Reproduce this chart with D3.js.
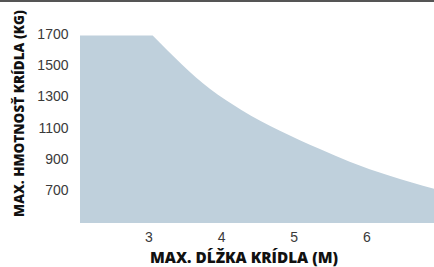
<!DOCTYPE html>
<html><head><meta charset="utf-8">
<script src="https://cdn.jsdelivr.net/npm/d3@7"></script>
<style>body{margin:0;background:#fff}svg{display:block}</style>
</head><body>
<script>
const wingLength = [2.06, 3.06, 3.85, 4.28, 4.81, 5.36, 5.77, 6.32, 6.93];
const maxLoad    = [1700, 1700, 1358, 1224, 1090, 973, 892, 802, 719];
const xTicks = [3, 4, 5, 6];
const yTicks = [700, 900, 1100, 1300, 1500, 1700];
const xTitle = "MAX. DĹŽKA KRÍDLA (M)";
const yTitle = "MAX. HMOTNOSŤ KRÍDLA (KG)";

const W = 434, H = 267;
const svg = d3.select("body").append("svg").attr("width", W).attr("height", H);

svg.append("rect").attr("x",0).attr("y",0).attr("width",W).attr("height",2).attr("fill","#555");

const x = d3.scaleLinear().domain([2.06, 6.93]).range([80, 434]);
const y = d3.scaleLinear().domain([500, 1700]).range([223, 35.5]);

const data = wingLength.map((l,i)=>({l, w:maxLoad[i]}));
// flat plateau drawn linearly, the decreasing part as a smooth monotone curve
const plateau = data.filter((d,i)=> i===0 || d.w === data[0].w);
const decline = data.slice(plateau.length-1);
const curveStr = d3.line().x(d=>x(d.l)).y(d=>y(d.w)).curve(d3.curveMonotoneX)(decline);
const first = plateau[0], last = data[data.length-1];
const pathStr = `M${x(first.l)},${y(500)}` +
  plateau.map(d=>`L${x(d.l)},${y(d.w)}`).join("") +
  "L" + curveStr.slice(1) +
  `L${x(last.l)},${y(500)}Z`;
svg.append("path").attr("d", pathStr).attr("fill", "#bfd0dc");

const font = "'Liberation Sans', Arial, sans-serif";
const xAxis = svg.append("g").attr("transform", `translate(0,${223})`)
  .call(d3.axisBottom(x).tickValues(xTicks).tickSize(0).tickPadding(6).tickFormat(d3.format("d")));
xAxis.select(".domain").remove();
xAxis.selectAll("text").attr("font-family", font).attr("font-size", 14).attr("fill", "#3a3a3a").attr("dy","0.95em");

const yAxis = svg.append("g").attr("transform", `translate(68.5,0)`)
  .call(d3.axisLeft(y).tickValues(yTicks).tickSize(0).tickPadding(0).tickFormat(d3.format("d")));
yAxis.select(".domain").remove();
yAxis.selectAll("text").attr("font-family", font).attr("font-size", 14).attr("fill", "#3a3a3a").attr("dy","0.2em");

const tfont = "'Open Sans', sans-serif";
function fit(sel, target){
  const w = sel.node().getComputedTextLength();
  const fs = 14 * target / w;
  sel.attr("font-size", fs);
}
const xt = svg.append("text").attr("x", 244).attr("y", 263).attr("text-anchor","middle")
  .attr("font-family", tfont).attr("font-weight", 800).attr("font-size", 14).attr("fill","#111")
  .text(xTitle);
fit(xt, 188);
const yt = svg.append("text").attr("transform", "translate(23.5,113.5) rotate(-90)").attr("text-anchor","middle")
  .attr("font-family", tfont).attr("font-weight", 800).attr("font-size", 14).attr("fill","#111")
  .text(yTitle);
fit(yt, 207);
</script>
</body></html>
